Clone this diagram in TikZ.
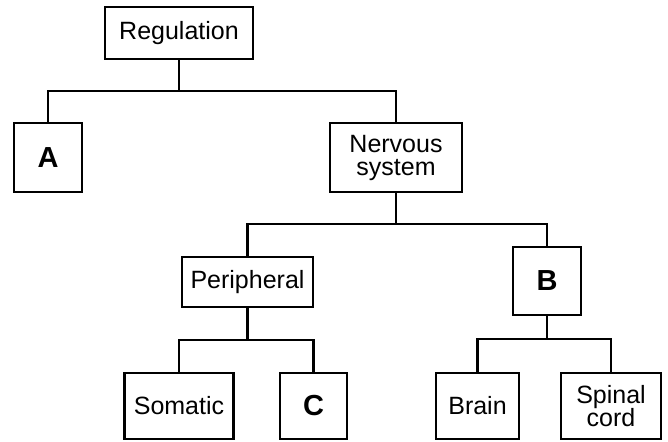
\documentclass[tikz,border=0pt]{standalone}
\usepackage{fontspec}
\setmainfont{Liberation Sans}
\begin{document}
\begin{tikzpicture}[x=1pt,y=-1pt,
  box/.style={draw=black,line width=2.5pt,rectangle,inner sep=0pt,align=center,
    font=\fontsize{25}{27}\selectfont},
  letterbox/.style={box,font=\fontsize{29}{31}\selectfont\bfseries},
  link/.style={draw=black,line width=2.5pt,line join=miter}]
\useasboundingbox[fill=white] (0,0) rectangle (668,441);
\node[box,minimum width=148pt,minimum height=52pt] (reg) at (179,33) {Regulation};
\node[letterbox,minimum width=68pt,minimum height=69pt] (a) at (48,157.5) {A};
\node[box,minimum width=132pt,minimum height=69pt] (ns) at (396,157.5) {Nervous\\[-4pt]system};
\node[box,minimum width=131pt,minimum height=50pt] (per) at (247.5,282) {Peripheral};
\node[letterbox,minimum width=68pt,minimum height=68pt] (b) at (547,281) {B};
\node[box,minimum width=109pt,minimum height=66pt] (som) at (179,406) {Somatic};
\node[letterbox,minimum width=67pt,minimum height=66pt] (c) at (313.5,406) {C};
\node[box,minimum width=83pt,minimum height=66pt] (brain) at (477.5,406) {Brain};
\node[box,minimum width=100pt,minimum height=66pt] (sp) at (611,406) {Spinal\\[-4pt]cord};
\coordinate (j1) at (179,91);
\coordinate (j2) at (396,224);
\coordinate (j3) at (247.5,340);
\coordinate (j4) at (547,339);
\draw[link] (reg.south) -- (j1);
\draw[link] (a.north) |- (j1) -| (ns.north);
\draw[link] (ns.south) -- (j2);
\draw[link] (per.north) |- (j2) -| (b.north);
\draw[link] (per.south) -- (j3);
\draw[link] (som.north) |- (j3) -| (c.north);
\draw[link] (b.south) -- (j4);
\draw[link] (brain.north) |- (j4) -| (sp.north);
\end{tikzpicture}
\end{document}
